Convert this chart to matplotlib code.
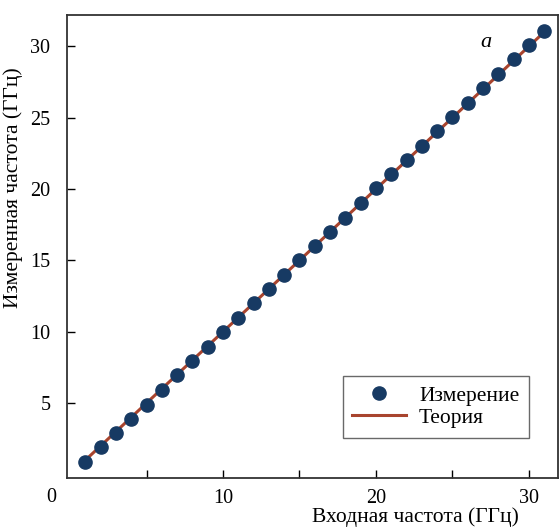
import numpy as np
import matplotlib.pyplot as plt

plt.rcParams['font.family'] = ['Liberation Serif', 'DejaVu Serif']

# input frequency (GHz) and measured frequency (GHz)
f_in = [1, 2, 3, 4, 5, 6, 7, 8, 9, 10, 11, 12, 13, 14, 15, 16,
        17, 18, 19, 20, 21, 22, 23, 24, 25, 26, 27, 28, 29, 30, 31]
f_meas = [0.9, 1.9, 2.9, 3.9, 4.9, 5.95, 6.95, 7.95, 8.95, 9.95, 10.95, 12.0,
          13.0, 14.0, 15.0, 16.0, 17.0, 18.0, 19.0, 20.05, 21.05, 22.05, 23.05,
          24.05, 25.05, 26.05, 27.05, 28.05, 29.1, 30.1, 31.1]
theory = [1, 31]

fig = plt.figure(figsize=(5.6, 5.28), dpi=100)
ax = fig.add_axes([0.1196, 0.0947, 0.8768, 0.877])

ax.plot(theory, theory, color='#a8442e', lw=2.2, zorder=2, label='Теория')
ax.plot(f_in, f_meas, 'o', ms=9.5, color='#173a63', mec='#173a63',
        zorder=3, label='Измерение')

ax.set_xlim(-0.2, 31.9)
ax.set_ylim(-0.25, 32.2)

ax.set_xticks([5, 10, 15, 20, 25, 30])
ax.set_xticklabels(['', '10', '', '20', '', '30'])
ax.set_yticks([5, 10, 15, 20, 25, 30])
ax.tick_params(direction='in', length=6, width=1, labelsize=14.5)
ax.tick_params(axis='y', pad=12)
ax.tick_params(axis='x', pad=8)

# zero label sits at the corner, left of the axis origin
ax.text(-0.033, -0.022, '0', fontsize=14.5, ha='center', va='top',
        transform=ax.transAxes)

for s in ax.spines.values():
    s.set_linewidth(1.3)
    s.set_color('#333333')

ax.set_xlabel('Входная частота (ГГц)', fontsize=15.5)
ax.xaxis.set_label_coords(0.71, -0.063)
ax.set_ylabel('Измеренная частота (ГГц)', fontsize=15.5)
ax.yaxis.set_label_coords(-0.09, 0.628)

ax.text(27.2, 30.3, 'a', fontsize=16, style='italic', ha='center', va='center')

h, l = ax.get_legend_handles_labels()
leg = ax.legend(h[::-1], l[::-1], loc='lower right', bbox_to_anchor=(0.941, 0.087),
                fontsize=15.5, frameon=True, fancybox=False, edgecolor='#444444',
                handlelength=2.5, handletextpad=0.6, labelspacing=0.1,
                borderpad=0.45, borderaxespad=0)
leg.get_frame().set_linewidth(1.0)

plt.savefig('out.png', dpi=100)
